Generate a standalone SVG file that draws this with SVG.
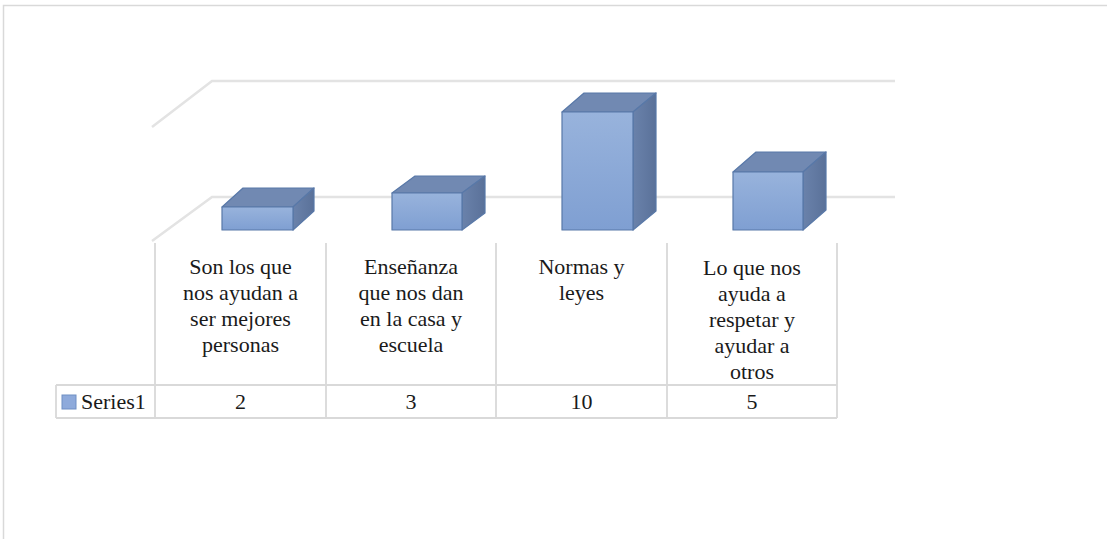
<svg xmlns="http://www.w3.org/2000/svg" width="1107" height="539" viewBox="0 0 1107 539">
<defs>
<linearGradient id="front" x1="0" y1="0" x2="0" y2="1">
<stop offset="0" stop-color="#98b3dc"/>
<stop offset="1" stop-color="#7f9fd2"/>
</linearGradient>
<linearGradient id="side" x1="0" y1="0" x2="1" y2="0">
<stop offset="0" stop-color="#6a82ab"/>
<stop offset="1" stop-color="#5a7199"/>
</linearGradient>
<style>
.grid{fill:none;stroke:#e3e3e3;stroke-width:2.5}
.frame{fill:none;stroke:#d9d9d9;stroke-width:1.5}
.tbl{fill:none;stroke:#d9d9d9;stroke-width:1.8}
.f{fill:url(#front);stroke:#5878a8;stroke-width:1.2;stroke-linejoin:round}
.t{fill:#7189b2;stroke:#5878a8;stroke-width:1.2;stroke-linejoin:round}
.s{fill:url(#side);stroke:#5878a8;stroke-width:1.2;stroke-linejoin:round}
</style>
</defs>
<rect x="0" y="0" width="1107" height="539" fill="#ffffff"/>
<g id="frame">
<path class="frame" d="M3.5,539 V5.5 H1107"/>
</g>
<g id="gridlines">
<path class="grid" d="M152,127 L212,81 H895"/>
<path class="grid" d="M152,241 L212,197 H895"/>
</g>
<g id="bar1">
<polygon class="t" points="222,207 243,188 314,188 293,207"/>
<polygon class="s" points="293,207 314,188 314,211 293,230"/>
<rect class="f" x="222" y="207" width="71" height="23"/>
</g>
<g id="bar2">
<polygon class="t" points="392,193 415,176 485,176 462,193"/>
<polygon class="s" points="462,193 485,176 485,213 462,230"/>
<rect class="f" x="392" y="193" width="70" height="37"/>
</g>
<g id="bar3">
<polygon class="t" points="562,112 584,93 656,93 633,112"/>
<polygon class="s" points="633,112 656,93 656,211 633,230"/>
<rect class="f" x="562" y="112" width="71" height="118"/>
</g>
<g id="bar4">
<polygon class="t" points="733,172 756,152 826,152 803,172"/>
<polygon class="s" points="803,172 826,152 826,210 803,230"/>
<rect class="f" x="733" y="172" width="70" height="58"/>
</g>
<g id="table">
<path class="tbl" d="M56,385 H837 M56,418 H837 M56,385 V418 M155,243 V418 M326,243 V418 M496,243 V418 M667,243 V418 M837,243 V418"/>
</g>
<g id="cat1">
<text x="240.5" y="274" font-family="Liberation Serif" font-size="22" fill="#1a1a1a" text-anchor="middle">Son los que</text>
<text x="240.5" y="300" font-family="Liberation Serif" font-size="22" fill="#1a1a1a" text-anchor="middle">nos ayudan a</text>
<text x="240.5" y="326" font-family="Liberation Serif" font-size="22" fill="#1a1a1a" text-anchor="middle">ser mejores</text>
<text x="240.5" y="352" font-family="Liberation Serif" font-size="22" fill="#1a1a1a" text-anchor="middle">personas</text>
</g>
<g id="cat2">
<text x="411" y="274" font-family="Liberation Serif" font-size="22" fill="#1a1a1a" text-anchor="middle">Enseñanza</text>
<text x="411" y="300" font-family="Liberation Serif" font-size="22" fill="#1a1a1a" text-anchor="middle">que nos dan</text>
<text x="411" y="326" font-family="Liberation Serif" font-size="22" fill="#1a1a1a" text-anchor="middle">en la casa y</text>
<text x="411" y="352" font-family="Liberation Serif" font-size="22" fill="#1a1a1a" text-anchor="middle">escuela</text>
</g>
<g id="cat3">
<text x="581.5" y="274" font-family="Liberation Serif" font-size="22" fill="#1a1a1a" text-anchor="middle">Normas y</text>
<text x="581.5" y="300" font-family="Liberation Serif" font-size="22" fill="#1a1a1a" text-anchor="middle">leyes</text>
</g>
<g id="cat4">
<text x="752" y="275" font-family="Liberation Serif" font-size="22" fill="#1a1a1a" text-anchor="middle">Lo que nos</text>
<text x="752" y="301" font-family="Liberation Serif" font-size="22" fill="#1a1a1a" text-anchor="middle">ayuda a</text>
<text x="752" y="327" font-family="Liberation Serif" font-size="22" fill="#1a1a1a" text-anchor="middle">respetar y</text>
<text x="752" y="353" font-family="Liberation Serif" font-size="22" fill="#1a1a1a" text-anchor="middle">ayudar a</text>
<text x="752" y="379" font-family="Liberation Serif" font-size="22" fill="#1a1a1a" text-anchor="middle">otros</text>
</g>
<g id="series">
<rect x="62" y="395" width="14" height="14" fill="#8eaadb" stroke="#6f8fc4" stroke-width="1"/>
<text x="81" y="409" font-family="Liberation Serif" font-size="22" fill="#1a1a1a">Series1</text>
<text x="240.5" y="409" font-family="Liberation Serif" font-size="22" fill="#1a1a1a" text-anchor="middle">2</text>
<text x="411" y="409" font-family="Liberation Serif" font-size="22" fill="#1a1a1a" text-anchor="middle">3</text>
<text x="581.5" y="409" font-family="Liberation Serif" font-size="22" fill="#1a1a1a" text-anchor="middle">10</text>
<text x="752" y="409" font-family="Liberation Serif" font-size="22" fill="#1a1a1a" text-anchor="middle">5</text>
</g>
</svg>
